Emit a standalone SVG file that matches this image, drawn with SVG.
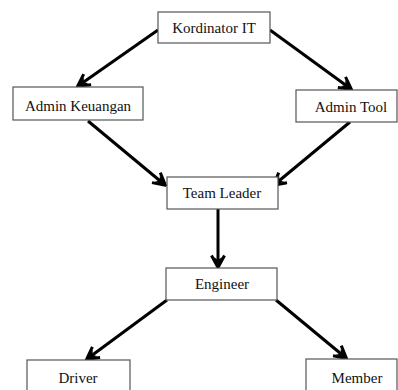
<svg xmlns="http://www.w3.org/2000/svg" width="398" height="390" viewBox="0 0 398 390">
<style>
.box{fill:#fff;stroke:#555;stroke-width:1.2}
.lbl{font-family:"Liberation Serif","Times New Roman",serif;font-size:15px;fill:#111;text-anchor:middle}
.edge{stroke:#000;stroke-width:3;fill:none;marker-end:url(#ah)}
</style>
<defs>
<marker id="ah" markerUnits="userSpaceOnUse" viewBox="0 0 16 16" refX="14" refY="8" markerWidth="16" markerHeight="16" orient="auto">
<path d="M2.5,1.5 L14.5,8 L2.5,14.5" fill="none" stroke="#000" stroke-width="3" stroke-linejoin="miter"/>
<path d="M4,4 L14,8 L4,12 L7,8 z" fill="#000"/>
</marker>
</defs>
<rect width="398" height="390" fill="#fff"/>
<g id="connectors">
<line class="edge" x1="158" y1="30" x2="78" y2="86"/>
<line class="edge" x1="270" y1="30" x2="351" y2="89"/>
<line class="edge" x1="88" y1="121" x2="165" y2="185"/>
<line class="edge" x1="350" y1="122" x2="274" y2="185"/>
<line class="edge" x1="218" y1="209" x2="218" y2="267"/>
<line class="edge" x1="167" y1="300" x2="87" y2="359"/>
<line class="edge" x1="276" y1="300" x2="346" y2="358"/>
</g>
<g id="kordinator"><rect class="box" x="158" y="12" width="112" height="31"/><text class="lbl" x="214" y="33">Kordinator IT</text></g>
<g id="adminkeuangan"><rect class="box" x="13" y="87" width="130" height="33"/><text class="lbl" x="78" y="111">Admin Keuangan</text></g>
<g id="admintool"><rect class="box" x="296" y="90" width="101" height="32"/><text class="lbl" x="351" y="112">Admin Tool</text></g>
<g id="teamleader"><rect class="box" x="167" y="177" width="111" height="32"/><text class="lbl" x="222" y="198">Team Leader</text></g>
<g id="engineer"><rect class="box" x="166" y="268" width="111" height="32"/><text class="lbl" x="222" y="289">Engineer</text></g>
<g id="driver"><rect class="box" x="27" y="360" width="103" height="36"/><text class="lbl" x="78" y="383">Driver</text></g>
<g id="member"><rect class="box" x="306" y="359" width="91" height="37"/><text class="lbl" x="357" y="383">Member</text></g>
</svg>
